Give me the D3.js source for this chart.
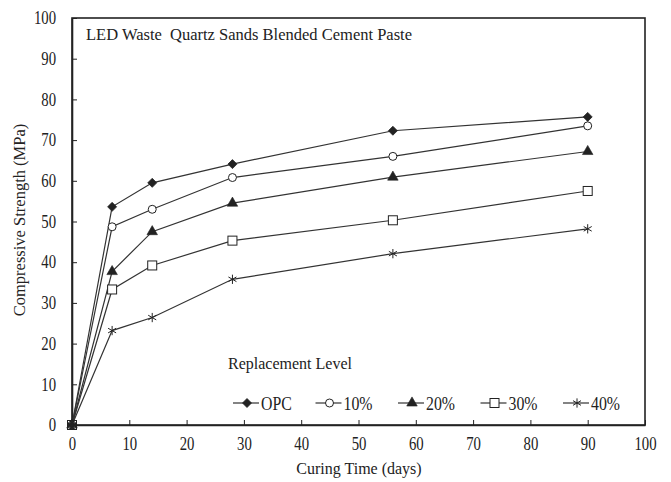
<!DOCTYPE html>
<html><head><meta charset="utf-8">
<script src="https://cdn.jsdelivr.net/npm/d3@7"></script>
<style>body{margin:0;background:#fff} text{font-family:"Liberation Serif","Times New Roman",serif;fill:#222}</style>
</head><body><svg id="c" width="671" height="482"></svg>
<script>
const days = [0, 7, 14, 28, 56, 90];
const seriesNames = ["OPC", "10%", "20%", "30%", "40%"];
const opc = [0, 53.6, 59.5, 64.1, 72.3, 75.7];
const r10 = [0, 48.7, 53.0, 60.8, 66.0, 73.5];
const r20 = [0, 37.7, 47.5, 54.5, 60.9, 67.2];
const r30 = [0, 33.3, 39.2, 45.3, 50.3, 57.5];
const r40 = [0, 23.2, 26.4, 35.8, 42.1, 48.2];
const xTicks = [0, 10, 20, 30, 40, 50, 60, 70, 80, 90, 100];
const yTicks = [0, 10, 20, 30, 40, 50, 60, 70, 80, 90, 100];
const title = "LED Waste  Quartz Sands Blended Cement Paste";
const xTitle = "Curing Time (days)";
const yTitle = "Compressive Strength (MPa)";
const legendTitle = "Replacement Level";

const allSeries = [opc, r10, r20, r30, r40];
const markerKinds = ["diamond", "circle", "triangle", "square", "asterisk"];

const svg = d3.select("#c");
const x = d3.scaleLinear().domain([0, 100]).range([72, 645]);
const y = d3.scaleLinear().domain([0, 100]).range([425, 18]);
const ink = "#222";

// frame
svg.append("rect").attr("x", x(0)).attr("y", y(100)).attr("width", x(100) - x(0)).attr("height", y(0) - y(100))
  .attr("fill", "none").attr("stroke", ink).attr("stroke-width", 1.6);

// axes
const gx = svg.append("g").attr("transform", `translate(0,${y(0)})`)
  .call(d3.axisBottom(x).tickValues(xTicks).tickSizeInner(-5).tickSizeOuter(0).tickPadding(12));
const gy = svg.append("g").attr("transform", `translate(${x(0)},0)`)
  .call(d3.axisLeft(y).tickValues(yTicks).tickSizeInner(-5).tickSizeOuter(0).tickPadding(16));
[gx, gy].forEach(g => {
  g.attr("font-family", null);
  g.select(".domain").attr("stroke", ink).attr("stroke-width", 1.6);
  g.selectAll(".tick line").attr("stroke", ink).attr("stroke-width", 1);
  g.selectAll("text").attr("font-size", 18).attr("fill", ink);
});
gx.selectAll("text").attr("transform", "scale(0.82,1)");
gy.selectAll("text").attr("x", -16 / 0.82).attr("transform", "scale(0.82,1)");

// titles
svg.append("text").attr("x", 86).attr("y", 40).attr("font-size", 16.5).style("white-space", "pre").text(title);
svg.append("text").attr("x", 359).attr("y", 474).attr("text-anchor", "middle").attr("font-size", 16).text(xTitle);
svg.append("text").attr("transform", "translate(25,220) rotate(-90)").attr("text-anchor", "middle").attr("font-size", 16.5).text(yTitle);

// markers
function drawMarker(g, kind) {
  if (kind === "diamond") {
    g.append("path").attr("d", "M0,-4.5L4.5,0L0,4.5L-4.5,0Z").attr("fill", ink).attr("stroke", ink).attr("stroke-width", 0.8);
  } else if (kind === "circle") {
    g.append("circle").attr("r", 4).attr("fill", "#fff").attr("stroke", ink).attr("stroke-width", 1);
  } else if (kind === "triangle") {
    g.append("path").attr("d", d3.symbol(d3.symbolTriangle, 48)()).attr("fill", ink).attr("stroke", ink).attr("stroke-width", 0.6);
  } else if (kind === "square") {
    g.append("rect").attr("x", -4.5).attr("y", -4.5).attr("width", 9).attr("height", 9).attr("fill", "#fff").attr("stroke", ink).attr("stroke-width", 1);
  } else {
    g.append("path").attr("d", d3.symbol(d3.symbolAsterisk, 60)()).attr("fill", "none").attr("stroke", ink).attr("stroke-width", 1);
  }
}

const line = d3.line().x((d, i) => x(days[i])).y(d => y(d));
allSeries.forEach((vals, si) => {
  svg.append("path").datum(vals).attr("d", line).attr("fill", "none").attr("stroke", "#333").attr("stroke-width", 1.2);
});
// draw from last series to first so the filled markers sit on top
allSeries.slice().reverse().forEach((vals, ri) => {
  const si = allSeries.length - 1 - ri;
  vals.forEach((v, i) => {
    const g = svg.append("g").attr("transform", `translate(${x(days[i])},${y(v)})`);
    drawMarker(g, markerKinds[si]);
  });
});

// legend
svg.append("text").attr("x", 228).attr("y", 369).attr("font-size", 16).text(legendTitle);
const legX = d3.scaleLinear().domain([0, 4]).range([233, 563]);
seriesNames.forEach((name, i) => {
  const g = svg.append("g").attr("transform", `translate(${legX(i)},403)`);
  g.append("line").attr("x1", 0).attr("x2", 26).attr("y1", 0).attr("y2", 0).attr("stroke", "#333").attr("stroke-width", 1.2);
  const mg = g.append("g").attr("transform", "translate(14,0)");
  drawMarker(mg, markerKinds[i]);
  g.append("text").attr("x", 28 / 0.88).attr("y", 7).attr("font-size", 18).attr("transform", "scale(0.88,1)").text(name);
});
</script></body></html>
